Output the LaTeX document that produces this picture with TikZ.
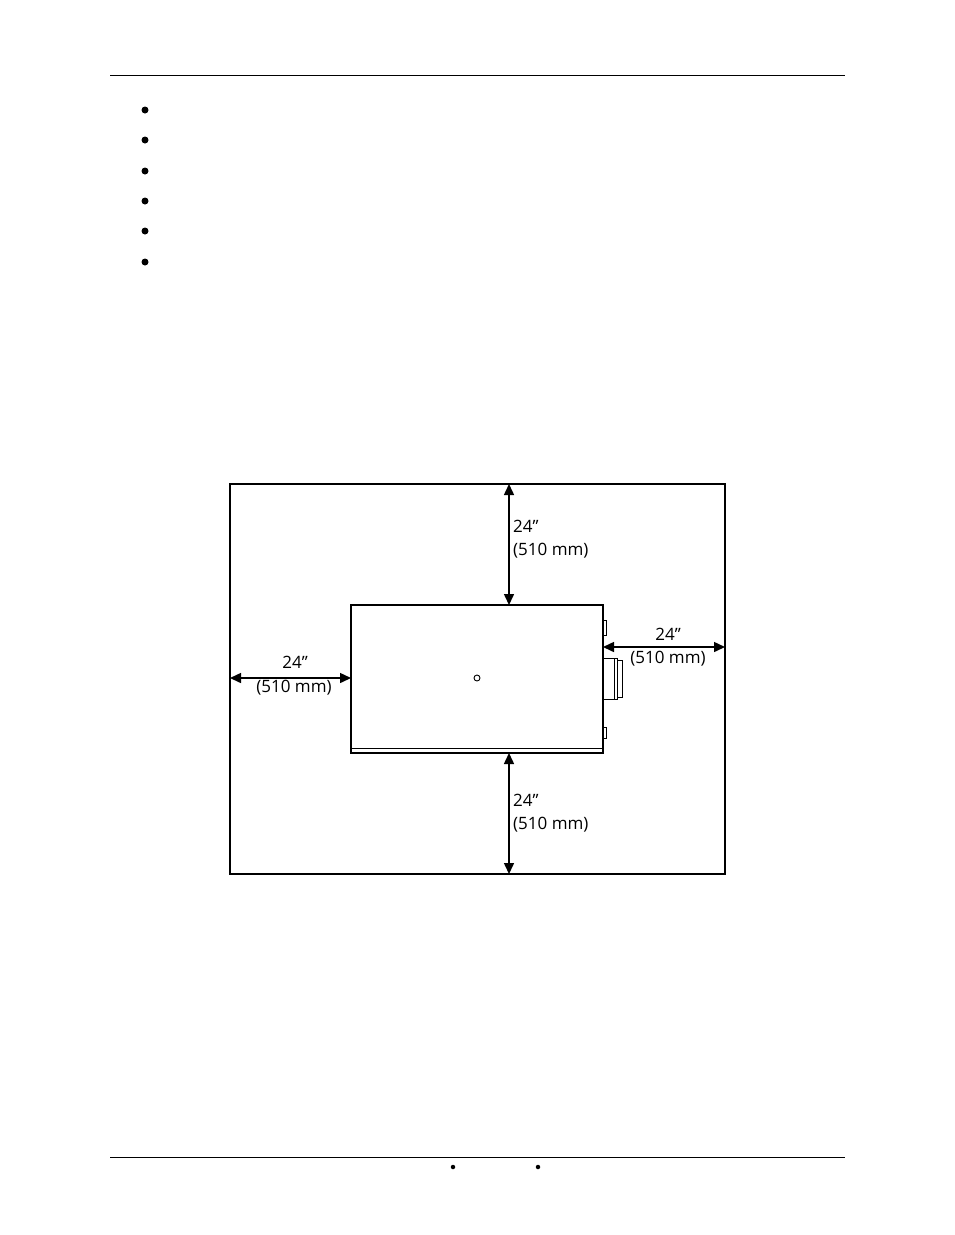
\documentclass[tikz,border=0pt]{standalone}
\usepackage{fontspec}
\setmainfont{Open Sans}
\usetikzlibrary{arrows.meta}
\tikzset{
  dim/.style={{Triangle[length=11pt,width=10pt]}-{Triangle[length=11pt,width=10pt]}, line width=1.5pt},
  dimlabel/.style={font=\fontsize{17}{23}\selectfont, align=left, inner sep=0pt},
  dot/.style={circle, fill, inner sep=0pt, minimum size=7pt}
}
\begin{document}
\begin{tikzpicture}[x=1pt,y=-1pt]
\useasboundingbox (0,0) rectangle (954,1235);

% page rules
\draw[line width=1pt] (110,75) -- (845,75);
\draw[line width=1pt] (110,1157) -- (845,1157);
\foreach \y in {110,140,171,201,231,262}
  \node[dot] at (145,\y) {};
\node[dot, minimum size=4.5pt] (f1) at (453,1167) {};
\node[dot, minimum size=4.5pt] (f2) at (538,1167) {};

% room
\draw[line width=2.5pt] (230,484) rectangle (725,874);

% device
\draw[line width=1.5pt] (351,605) rectangle (603,753);
\draw[line width=1pt] (351,748) -- (603,748);
\draw[line width=0.8pt] (603,620) rectangle (606,635);
\draw[line width=0.8pt] (603,727) rectangle (606,738);
\draw[line width=1pt] (603,658) rectangle (617,699);
\draw[line width=0.6pt] (617,660) rectangle (622,697);
\draw[line width=0.6pt] (614,658) -- (614,699);
\draw[line width=0.9pt] (477,678) circle (3);

\coordinate (top) at (509,484);
\coordinate (devtop) at (509,605);
\coordinate (bot) at (509,874);
\coordinate (devbot) at (509,753);
\coordinate (left) at (230,678);
\coordinate (devleft) at (351,678);
\coordinate (right) at (725,647);
\coordinate (devright) at (603,647);

\draw[dim] (top) -- (devtop);
\draw[dim] (devbot) -- (bot);
\draw[dim] (left) -- (devleft);
\draw[dim] (devright) -- (right);

\node[dimlabel, anchor=west] (ltop) at (513,539) {24”\\(510 mm)};
\node[dimlabel, anchor=west] (lbot) at (513,813) {24”\\(510 mm)};
\node[dimlabel] (lleft1) at (295,662) {24”};
\node[dimlabel] (lleft2) at (294,688) {(510 mm)};
\node[dimlabel] (lright1) at (668,634) {24”};
\node[dimlabel] (lright2) at (668,659) {(510 mm)};
\end{tikzpicture}
\end{document}
